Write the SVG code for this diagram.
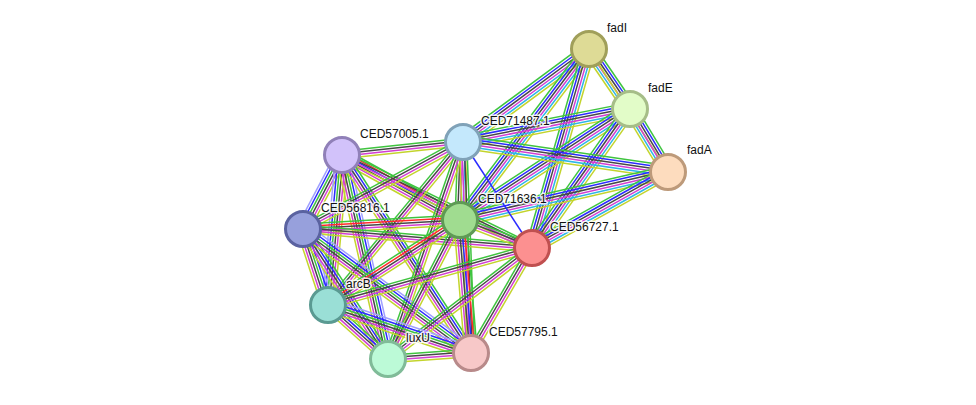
<svg xmlns="http://www.w3.org/2000/svg" xmlns:xlink="http://www.w3.org/1999/xlink" width="976" height="405" viewBox="0 0 976 405">
<style>
line{stroke-width:1.5;fill:none;stroke-linecap:butt}
.g{stroke:#3fc43f}.r{stroke:#ff2b2b}.b{stroke:#2b2bff}.k{stroke:#474747}
.m{stroke:#d23ed2}.c{stroke:#2eb6e6}.y{stroke:#c3d42c}.l{stroke:#a0a0ff}
circle{stroke-width:3}
text{font-family:"Liberation Sans",Arial,sans-serif;font-size:12px;fill:#111;stroke:#fff;stroke-width:3;stroke-opacity:0.85;paint-order:stroke;stroke-linejoin:round}
</style>
<defs>
<g id="t6f"><line x2="1" y1="-6.25" y2="-6.25" class="g"/><line x2="1" y1="-3.75" y2="-3.75" class="b"/><line x2="1" y1="-1.25" y2="-1.25" class="k"/><line x2="1" y1="1.25" y2="1.25" class="m"/><line x2="1" y1="3.75" y2="3.75" class="c"/><line x2="1" y1="6.25" y2="6.25" class="y"/></g>
<g id="t1y"><line x2="1" class="y"/></g>
<g id="t1b"><line x2="1" class="b"/></g>
<g id="t4"><line x2="1" y1="-3.75" y2="-3.75" class="g"/><line x2="1" y1="-1.25" y2="-1.25" class="k"/><line x2="1" y1="1.25" y2="1.25" class="m"/><line x2="1" y1="3.75" y2="3.75" class="y"/></g>
<g id="t5r"><line x2="1" y1="-5" y2="-5" class="g"/><line x2="1" y1="-2.5" y2="-2.5" class="r"/><line x2="1" class="k"/><line x2="1" y1="2.5" y2="2.5" class="m"/><line x2="1" y1="5" y2="5" class="y"/></g>
<g id="t5b"><line x2="1" y1="-5" y2="-5" class="g"/><line x2="1" y1="-2.5" y2="-2.5" class="b"/><line x2="1" class="k"/><line x2="1" y1="2.5" y2="2.5" class="m"/><line x2="1" y1="5" y2="5" class="y"/></g>
<g id="t5c"><line x2="1" y1="-5" y2="-5" class="g"/><line x2="1" y1="-2.5" y2="-2.5" class="k"/><line x2="1" class="m"/><line x2="1" y1="2.5" y2="2.5" class="c"/><line x2="1" y1="5" y2="5" class="y"/></g>
<g id="t6r"><line x2="1" y1="-6.25" y2="-6.25" class="g"/><line x2="1" y1="-3.75" y2="-3.75" class="r"/><line x2="1" y1="-1.25" y2="-1.25" class="b"/><line x2="1" y1="1.25" y2="1.25" class="k"/><line x2="1" y1="3.75" y2="3.75" class="m"/><line x2="1" y1="6.25" y2="6.25" class="y"/></g>
<g id="t6l"><line x2="1" y1="-6.25" y2="-6.25" class="l"/><line x2="1" y1="-3.75" y2="-3.75" class="b"/><line x2="1" y1="-1.25" y2="-1.25" class="g"/><line x2="1" y1="1.25" y2="1.25" class="k"/><line x2="1" y1="3.75" y2="3.75" class="m"/><line x2="1" y1="6.25" y2="6.25" class="y"/></g>
</defs>
<rect width="976" height="405" fill="#fff"/>
<g id="connectors">
<use xlink:href="#t6f" href="#t6f" transform="matrix(41 60 -0.8257 0.5642 589 49)"/>
<use xlink:href="#t1y" href="#t1y" transform="matrix(79 123 -0.8413 0.5404 589 49)"/>
<use xlink:href="#t6f" href="#t6f" transform="matrix(38 63 -0.8563 0.5165 630 109)"/>
<use xlink:href="#t6f" href="#t6f" transform="matrix(126 -93 0.5939 0.8046 463 142)"/>
<use xlink:href="#t6f" href="#t6f" transform="matrix(129 -171 0.7983 0.6022 460 220)"/>
<use xlink:href="#t6f" href="#t6f" transform="matrix(57 -199 0.9613 0.2754 532 248)"/>
<use xlink:href="#t6f" href="#t6f" transform="matrix(167 -33 0.1939 0.9812 463 142)"/>
<use xlink:href="#t6f" href="#t6f" transform="matrix(170 -111 0.5468 0.8374 460 220)"/>
<use xlink:href="#t6f" href="#t6f" transform="matrix(98 -139 0.8172 0.5761 532 248)"/>
<use xlink:href="#t6f" href="#t6f" transform="matrix(205 30 -0.1448 0.9894 463 142)"/>
<use xlink:href="#t6f" href="#t6f" transform="matrix(208 -48 0.2248 0.9742 460 220)"/>
<use xlink:href="#t6f" href="#t6f" transform="matrix(136 -76 0.4878 0.8729 532 248)"/>
<use xlink:href="#t4" href="#t4" transform="matrix(121 -13 0.1068 0.9942 342 155)"/>
<use xlink:href="#t6r" href="#t6r" transform="matrix(118 65 -0.4826 0.8760 342 155)"/>
<use xlink:href="#t6l" href="#t6l" transform="matrix(39 -74 0.8846 0.4662 303 229)"/>
<use xlink:href="#t4" href="#t4" transform="matrix(190 93 -0.4397 0.8983 342 155)"/>
<use xlink:href="#t6l" href="#t6l" transform="matrix(14 -150 0.9957 0.0929 328 305)"/>
<use xlink:href="#t6l" href="#t6l" transform="matrix(46 204 -0.9756 0.2200 342 155)"/>
<use xlink:href="#t5b" href="#t5b" transform="matrix(129 198 -0.8379 0.5459 342 155)"/>
<use xlink:href="#t4" href="#t4" transform="matrix(160 -87 0.4778 0.8786 303 229)"/>
<use xlink:href="#t5c" href="#t5c" transform="matrix(3 -78 0.9993 0.0384 460 220)"/>
<use xlink:href="#t1b" href="#t1b" transform="matrix(69 106 -0.8380 0.5455 463 142)"/>
<use xlink:href="#t4" href="#t4" transform="matrix(135 -163 0.7703 0.6380 328 305)"/>
<use xlink:href="#t4" href="#t4" transform="matrix(75 -217 0.9451 0.3267 388 359)"/>
<use xlink:href="#t4" href="#t4" transform="matrix(8 211 -0.9993 0.0379 463 142)"/>
<use xlink:href="#t5r" href="#t5r" transform="matrix(157 -9 0.0572 0.9981 303 229)"/>
<use xlink:href="#t4" href="#t4" transform="matrix(229 19 -0.0827 0.9966 303 229)"/>
<use xlink:href="#t6l" href="#t6l" transform="matrix(25 76 -0.95 0.3125 303 229)"/>
<use xlink:href="#t5b" href="#t5b" transform="matrix(85 130 -0.8371 0.5473 303 229)"/>
<use xlink:href="#t6l" href="#t6l" transform="matrix(168 124 -0.5939 0.8046 303 229)"/>
<use xlink:href="#t4" href="#t4" transform="matrix(72 28 -0.3625 0.9320 460 220)"/>
<use xlink:href="#t5r" href="#t5r" transform="matrix(132 -85 0.5414 0.8408 328 305)"/>
<use xlink:href="#t4" href="#t4" transform="matrix(72 -139 0.8882 0.4601 388 359)"/>
<use xlink:href="#t6r" href="#t6r" transform="matrix(11 133 -0.9963 0.0824 460 220)"/>
<use xlink:href="#t4" href="#t4" transform="matrix(204 -57 0.2691 0.9632 328 305)"/>
<use xlink:href="#t4" href="#t4" transform="matrix(144 -111 0.6106 0.7921 388 359)"/>
<use xlink:href="#t4" href="#t4" transform="matrix(61 -105 0.8649 0.5025 471 353)"/>
<use xlink:href="#t5b" href="#t5b" transform="matrix(60 54 -0.6690 0.7433 328 305)"/>
<use xlink:href="#t6l" href="#t6l" transform="matrix(143 48 -0.3183 0.9483 328 305)"/>
<use xlink:href="#t4" href="#t4" transform="matrix(83 -6 0.0721 0.9974 388 359)"/>
</g>
<g id="fadI"><circle cx="589" cy="49" r="17.5" fill="#dedb96" stroke="#a09f5a"/><text x="607" y="32">fadI</text></g>
<g id="fadE"><circle cx="630" cy="109" r="17.5" fill="#e2fcc8" stroke="#a6bd88"/><text x="648" y="92">fadE</text></g>
<g id="fadA"><circle cx="668" cy="172" r="17.5" fill="#fddcbe" stroke="#bd9a7a"/><text x="687" y="154">fadA</text></g>
<g id="CED71487.1"><circle cx="463" cy="142" r="17.5" fill="#c4e8fc" stroke="#80a2b8"/><text x="481" y="125">CED71487.1</text></g>
<g id="CED57005.1"><circle cx="342" cy="155" r="17.5" fill="#d2c2fa" stroke="#9080b8"/><text x="360" y="138">CED57005.1</text></g>
<g id="CED56816.1"><circle cx="303" cy="229" r="17.5" fill="#97a0dc" stroke="#5a62a0"/><text x="321" y="212">CED56816.1</text></g>
<g id="CED71636.1"><circle cx="460" cy="220" r="17.5" fill="#a0dc90" stroke="#5e9a55"/><text x="478" y="203">CED71636.1</text></g>
<g id="CED56727.1"><circle cx="532" cy="248" r="17.5" fill="#fc9090" stroke="#c05050"/><text x="550" y="231">CED56727.1</text></g>
<g id="arcB"><circle cx="328" cy="305" r="17.5" fill="#9adfd6" stroke="#5a9a92"/><text x="346" y="288">arcB</text></g>
<g id="luxU"><circle cx="388" cy="359" r="17.5" fill="#bcfad7" stroke="#80bb98"/><text x="406" y="342">luxU</text></g>
<g id="CED57795.1"><circle cx="471" cy="353" r="17.5" fill="#f7c8c8" stroke="#b88a8a"/><text x="489" y="336">CED57795.1</text></g>
</svg>
